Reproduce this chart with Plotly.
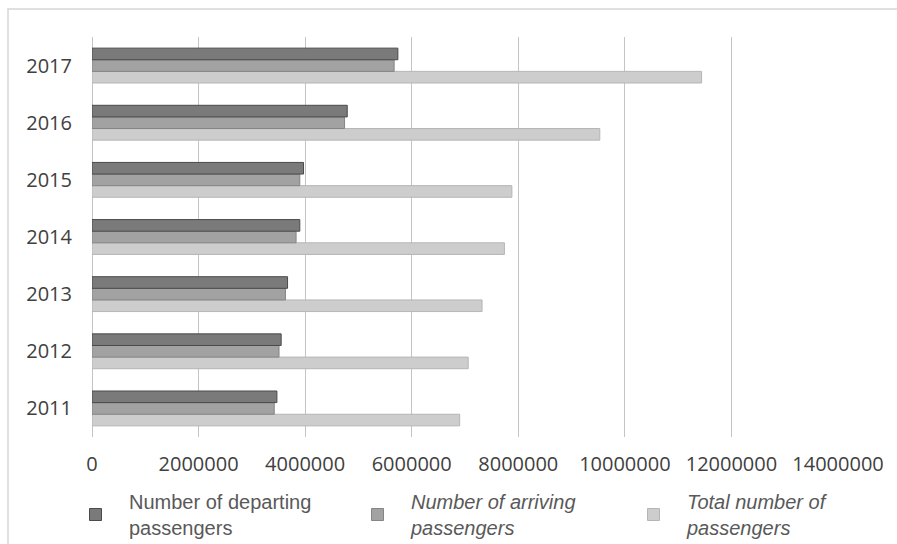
import plotly.graph_objects as go

years = ["2011", "2012", "2013", "2014", "2015", "2016", "2017"]
departing = [3470000, 3550000, 3670000, 3900000, 3970000, 4790000, 5740000]
arriving = [3420000, 3510000, 3630000, 3830000, 3900000, 4740000, 5670000]
total = [6900000, 7060000, 7320000, 7740000, 7880000, 9530000, 11440000]
x_ticks = [0, 2000000, 4000000, 6000000, 8000000, 10000000, 12000000, 14000000]

names = ["Number of departing<br>passengers",
         "<i>Number of arriving<br>passengers</i>",
         "<i>Total number of<br>passengers</i>"]

W, H = 897, 544
ml, mr, mt, mb = 92, 59, 37, 107
pw, ph = W - ml - mr, H - mt - mb

def px_x(p):
    return (p - ml) / pw

def px_y(p):
    return (H - mb - p) / ph

fig = go.Figure()
fig.add_trace(go.Bar(y=years, x=total, orientation="h", name=names[2], legend="legend3",
                     marker=dict(color="#cdcdcd", line=dict(color="#b5b5b5", width=1))))
fig.add_trace(go.Bar(y=years, x=arriving, orientation="h", name=names[1], legend="legend2",
                     marker=dict(color="#a2a2a2", line=dict(color="#858585", width=1))))
fig.add_trace(go.Bar(y=years, x=departing, orientation="h", name=names[0], legend="legend",
                     marker=dict(color="#7a7a7a", line=dict(color="#4a4a4a", width=1))))

leg_common = dict(orientation="h", xanchor="left", yanchor="top", y=px_y(482),
                  itemwidth=57, font=dict(family="Liberation Sans", size=20, color="#595959"),
                  bgcolor="rgba(0,0,0,0)", valign="middle")

fig.update_layout(
    width=W, height=H,
    margin=dict(l=ml, r=mr, t=mt, b=mb, autoexpand=False),
    paper_bgcolor="white", plot_bgcolor="white",
    barmode="group", bargap=0.39, bargroupgap=0,
    font=dict(family="Open Sans", color="#404040"),
    xaxis=dict(range=[0, 14000000], tickvals=x_ticks,
               ticktext=[str(v) for v in x_ticks],
               showgrid=True, gridcolor="#c4c4c4", gridwidth=1,
               zeroline=True, zerolinecolor="#c4c4c4", zerolinewidth=1,
               showline=False, ticks="", tickfont=dict(size=20, family="Open Sans", color="#404040"),
               ticklabelstandoff=13),
    yaxis=dict(showgrid=False, zeroline=False, showline=False, ticks="",
               tickfont=dict(size=20, family="Open Sans", color="#404040"),
               ticklabelstandoff=19),
    showlegend=True,
    legend=dict(x=px_x(62), **leg_common),
    legend2=dict(x=px_x(344), **leg_common),
    legend3=dict(x=px_x(620), **leg_common),
    shapes=[dict(type="rect", xref="paper", yref="paper",
                 x0=px_x(8), x1=px_x(905), y0=px_y(560), y1=px_y(9),
                 line=dict(color="#d6d6d6", width=1.5), fillcolor="rgba(0,0,0,0)",
                 layer="below")],
)

fig.write_html("out.html")
